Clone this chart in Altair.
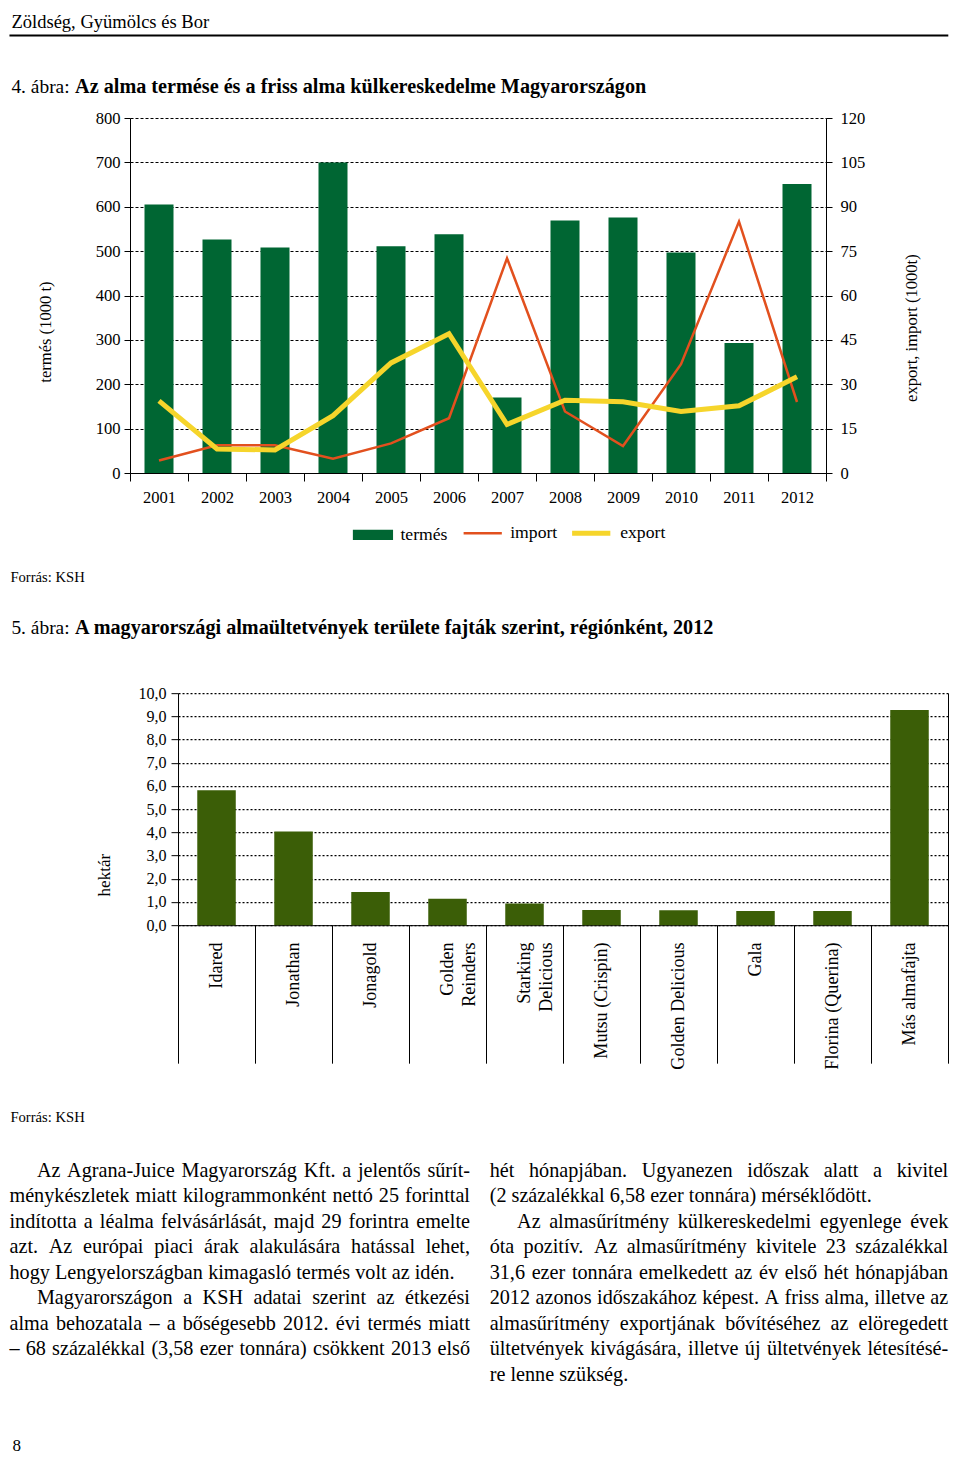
import altair as alt
import pandas as pd

FONT = "Liberation Serif"
SX = 0.98
SY = 0.982
FS = (SX + SY) / 2

# ---------------- Figure 4 data ----------------
years = ["2001", "2002", "2003", "2004", "2005", "2006",
         "2007", "2008", "2009", "2010", "2011", "2012"]
termes = [605, 526, 508, 700, 511, 538, 170, 569, 576, 497, 293, 651]
import_vals = [4.2, 9.4, 9.4, 4.8, 10.0, 18.5, 72.6, 20.8, 9.1, 36.8, 85.0, 24.0]
export_vals = [24.4, 8.1, 7.8, 19.4, 37.2, 47.1, 16.4, 24.6, 24.1, 20.8, 22.7, 32.5]
series = ["termés", "import", "export"]
left_ticks = list(range(0, 801, 100))
right_ticks = list(range(0, 121, 15))

# ---------------- Figure 5 data ----------------
varieties = ["Idared", "Jonathan", "Jonagold", "Golden Reinders", "Starking Delicious",
             "Mutsu (Crispin)", "Golden Delicious", "Gala", "Florina (Querina)", "Más almafajta"]
hectares = [5.82, 4.04, 1.43, 1.14, 0.93, 0.65, 0.64, 0.61, 0.61, 9.27]
ha_ticks = list(range(0, 11))

# ---------------- Page text ----------------
# (line, starts paragraph, justified)
col1 = [
    ("Az Agrana-Juice Magyarország Kft. a jelentős sűrít-", True, True),
    ("ménykészletek miatt kilogrammonként nettó 25 forinttal", False, True),
    ("indította a léalma felvásárlását, majd 29 forintra emelte", False, True),
    ("azt. Az európai piaci árak alakulására hatással lehet,", False, True),
    ("hogy Lengyelországban kimagasló termés volt az idén.", False, False),
    ("Magyarországon a KSH adatai szerint az étkezési", True, True),
    ("alma behozatala – a bőségesebb 2012. évi termés miatt", False, True),
    ("– 68 százalékkal (3,58 ezer tonnára) csökkent 2013 első", False, True),
]
col2 = [
    ("hét hónapjában. Ugyanezen időszak alatt a kivitel", False, True),
    ("(2 százalékkal 6,58 ezer tonnára) mérséklődött.", False, False),
    ("Az almasűrítmény külkereskedelmi egyenlege évek", True, True),
    ("óta pozitív. Az almasűrítmény kivitele 23 százalékkal", False, True),
    ("31,6 ezer tonnára emelkedett az év első hét hónapjában", False, True),
    ("2012 azonos időszakához képest. A friss alma, illetve az", False, True),
    ("almasűrítmény exportjának bővítéséhez az elöregedett", False, True),
    ("ültetvények kivágására, illetve új ültetvények létesítésé-", False, True),
    ("re lenne szükség.", False, False),
]

GREEN = "#006633"
RED = "#E2501E"
YELLOW = "#F6D52B"
OLIVE = "#3B5E07"

# Times / Liberation Serif advance widths (per 1000 em) for justification
_W = {" ": 250, "-": 333, ".": 250, ",": 250, "(": 333, ")": 333, ":": 278, "–": 500}
for _c in "0123456789":
    _W[_c] = 500
_W.update(dict(A=722, B=667, C=667, D=722, E=611, F=556, G=722, H=722, I=333, J=389,
               K=722, L=611, M=889, N=722, O=722, P=556, Q=722, R=667, S=556, T=611,
               U=722, V=722, W=944, X=722, Y=722, Z=611))
_W.update(dict(a=444, b=500, c=444, d=500, e=444, f=333, g=500, h=500, i=278, j=278,
               k=500, l=278, m=778, n=500, o=500, p=500, q=500, r=333, s=389, t=278,
               u=500, v=500, w=722, x=500, y=500, z=444))
_ACC = {"á": "a", "é": "e", "í": "i", "ó": "o", "ö": "o", "ő": "o", "ú": "u", "ü": "u",
        "ű": "u", "Á": "A", "É": "E", "Ö": "O", "Ü": "U"}


def word_width(w, fs):
    return sum(_W.get(_ACC.get(c, c), 500) for c in w) * fs / 1000.0


def txt(s, x, y, size, bold=False, angle=None, align="left",
        baseline="alphabetic"):
    props = dict(font=FONT, fontSize=size, align=align, baseline=baseline, color="black")
    if bold:
        props["fontWeight"] = "bold"
    if angle is not None:
        props["angle"] = angle
    return alt.Chart(alt.Data(values=[{"k": 1}])).mark_text(**props).encode(
        x=alt.value(x), y=alt.value(y), text=alt.value(s))


def paragraph_layers(lines, x0, y0, width, fs, lh, indent):
    layers = []
    for i, (line, para, just) in enumerate(lines):
        y = y0 + i * lh
        start = x0 + (indent if para else 0)
        avail = width - (indent if para else 0)
        words = line.split(" ")
        widths = [word_width(w, fs) for w in words]
        gap = 0.25 * fs
        if just and len(words) > 1:
            gap = max((avail - sum(widths)) / (len(words) - 1), 0.15 * fs)
        x = start
        for w, ww in zip(words, widths):
            layers.append(txt(w, x, y, fs))
            x += ww + gap
    return layers


# ================= Panel 1: figure 4 =================
OX, O1y = 123, 109


def fx(x):
    return (x - OX) * SX


def fy(y):
    return (y - O1y) * SY


W1 = round(710 * SX)
H1 = round(361 * SY)

df_bar = pd.DataFrame({"ev": years, "termes": termes, "sorozat": [series[0]] * len(years)})
df_line = pd.DataFrame({
    "ev": years + years,
    "ertek": import_vals + export_vals,
    "sorozat": [series[1]] * len(years) + [series[2]] * len(years),
})

AX4 = 16.9 * FS
x4 = alt.X("ev:N", sort=years, scale=alt.Scale(paddingInner=0, paddingOuter=0),
           axis=alt.Axis(title=None, labelAngle=0, tickBand="extent", tickSize=8,
                         labelPadding=8, labelFontSize=AX4, labelFont=FONT,
                         labelColor="black", domainColor="black", tickColor="black"))

LEG = 18 * FS
leg_fill = alt.Legend(title=None, orient="none", legendX=fx(350), legendY=fy(533) - 20,
                      symbolType="M-1,-0.25H1V0.25H-1Z", symbolSize=(41 * SX) ** 2,
                      symbolStrokeWidth=0, labelFont=FONT, labelFontSize=LEG,
                      labelColor="black", labelOffset=7, padding=0)
leg_line = alt.Legend(title=None, orient="none", legendX=fx(462), legendY=fy(533) - 23,
                      direction="horizontal", symbolType="stroke", symbolSize=(39 * SX) ** 2,
                      labelFont=FONT, labelFontSize=LEG, labelColor="black",
                      labelOffset=7, columnPadding=3, padding=0)

bars4 = alt.Chart(df_bar).mark_bar(width=alt.RelativeBandSize(0.5)).encode(
    x=x4,
    y=alt.Y("termes:Q", scale=alt.Scale(domain=[0, 800], nice=False),
            axis=alt.Axis(values=left_ticks, title=None, tickSize=6, labelPadding=4,
                          grid=True, gridDash=[3, 2], gridColor="black", gridWidth=1,
                          labelFontSize=AX4, labelFont=FONT, labelColor="black",
                          domainColor="black", tickColor="black")),
    fill=alt.Fill("sorozat:N", scale=alt.Scale(domain=[series[0]], range=[GREEN]),
                  legend=leg_fill),
)

lines4 = alt.Chart(df_line).mark_line().encode(
    x=x4,
    y=alt.Y("ertek:Q", scale=alt.Scale(domain=[0, 120], nice=False),
            axis=alt.Axis(orient="right", values=right_ticks, title=None, tickSize=6,
                          labelPadding=8, grid=False, labelFontSize=AX4, labelFont=FONT,
                          labelColor="black", domainColor="black", tickColor="black")),
    stroke=alt.Stroke("sorozat:N", scale=alt.Scale(domain=series[1:], range=[RED, YELLOW]),
                      legend=leg_line),
    strokeWidth=alt.StrokeWidth("sorozat:N", scale=alt.Scale(domain=series[1:], range=[2.5, 5]),
                                legend=leg_line),
)

header_rule = alt.Chart(alt.Data(values=[{"k": 1}])).mark_rule(
    color="black", strokeWidth=2).encode(
    x=alt.value(fx(0)), x2=alt.value(fx(958)), y=alt.value(fy(25)))

texts1 = [
    txt("Zöldség, Gyümölcs és Bor", fx(2), fy(17), 18.9 * FS),
    txt("4. ábra:", fx(2), fy(84), 19.8 * FS),
    txt("Az alma termése és a friss alma külkereskedelme Magyarországon", fx(67), fy(84),
        20.6 * FS, bold=True),
    txt("termés (1000 t)", fx(37.5), fy(327), AX4, angle=270, align="center", baseline="middle"),
    txt("export, import (1000t)", fx(921), fy(323), AX4, angle=270, align="center",
        baseline="middle"),
    txt("Forrás: KSH", fx(1), fy(582), 14.9 * FS),
]

p1 = alt.layer(bars4, lines4, header_rule, *texts1).resolve_scale(
    y="independent").properties(width=W1, height=H1)

# ================= Panel 2: figure 5 =================
O2y = 694.7


def gy(y):
    return (y - O2y) * SY


W2 = round(fx(958))
H2 = round(236 * SY)
X5_LEFT = fx(172)
T5 = round(140.5 * SY)
LP5 = 17 * SY - T5

df5 = pd.DataFrame({"fajta": varieties, "ha": hectares})

label_expr5 = ("datum.label == 'Golden Reinders' ? ['Golden\u2002\u2009', 'Reinders'] : "
               "datum.label == 'Starking Delicious' ? ['Starking\u2005\u2009', 'Delicious'] : datum.label")

x5 = alt.X("fajta:N", sort=varieties,
           scale=alt.Scale(paddingInner=0, paddingOuter=0, range=[X5_LEFT, W2]),
           axis=alt.Axis(title=None, labelAngle=270, tickBand="extent", tickSize=T5,
                         labelPadding=LP5, labelExpr=label_expr5, labelFontSize=18.5 * FS,
                         labelFont=FONT, labelColor="black", labelLineHeight=22,
                         labelLimit=0, labelOverlap=False, domainColor="black",
                         tickColor="black"))

y5_scale = alt.Scale(domain=[0, 10], nice=False)

bars5 = alt.Chart(df5).mark_bar(color=OLIVE, width=alt.RelativeBandSize(0.5)).encode(
    x=x5,
    y=alt.Y("ha:Q", scale=y5_scale,
            axis=alt.Axis(values=ha_ticks, title=None, tickSize=7, labelPadding=5,
                          offset=-X5_LEFT,
                          labelExpr="replace(format(datum.value, '.1f'), '.', ',')",
                          grid=True, gridDash=[2, 2], gridColor="black", gridWidth=1.2,
                          labelFontSize=16.4 * FS, labelFont=FONT, labelColor="black",
                          domainColor="black", tickColor="black")),
)

border5 = alt.Chart(df5).mark_bar(opacity=0, width=alt.RelativeBandSize(0.5)).encode(
    x=x5,
    y=alt.Y("ha:Q", scale=y5_scale,
            axis=alt.Axis(orient="right", labels=False, ticks=False, grid=False,
                          domain=True, domainColor="black", title=None)),
)

BODY_FS = 20.6 * FS
texts2 = [
    txt("5. ábra:", fx(2), gy(634), 19.8 * FS),
    txt("A magyarországi almaültetvények területe fajták szerint, régiónként, 2012",
        fx(67), gy(634), 20.6 * FS, bold=True),
    txt("hektár", fx(97), gy(880), 17.4 * FS, angle=270, align="center", baseline="middle"),
    txt("Forrás: KSH", fx(1), gy(1131), 14.9 * FS),
    txt("8", fx(3), gy(1466), 17.4 * FS),
]
texts2 += paragraph_layers(col1, fx(0), gy(1187), 470 * SX, BODY_FS, 26 * SY, 28 * SX)
texts2 += paragraph_layers(col2, fx(490), gy(1187), 468 * SX, BODY_FS, 26 * SY, 28 * SX)

p2 = alt.layer(bars5, border5, *texts2).resolve_axis(
    y="independent").properties(width=W2, height=H2)

SPACING = (O2y - O1y) * SY - H1

chart = alt.vconcat(p1, p2, spacing=SPACING, bounds="flush").properties(
    padding={"top": 4, "left": 0, "right": 0, "bottom": 0}, background="white"
).configure_view(strokeWidth=0).configure_axis(
    labelFont=FONT, titleFont=FONT
).configure_legend(labelFont=FONT)

chart.save("out.html", embed_options={"renderer": "svg", "actions": False})
